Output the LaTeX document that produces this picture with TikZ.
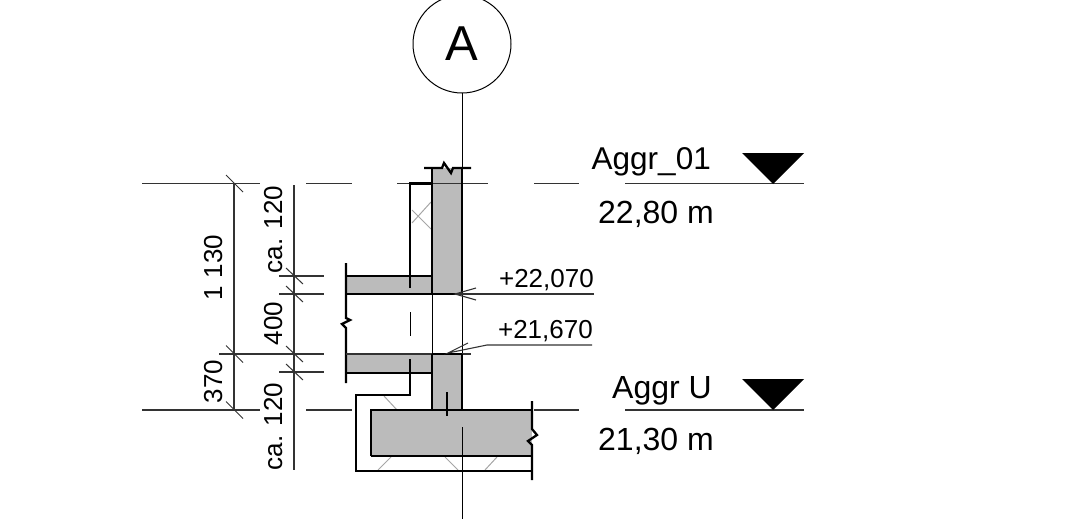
\documentclass[tikz,border=0pt]{standalone}
\usepackage{fontspec}
\setmainfont{Liberation Sans}
\definecolor{concrete}{HTML}{BBBBBB}
\definecolor{thinline}{HTML}{333333}
\tikzset{heavy/.style={black, line width=2.3pt}}
\tikzset{thin line/.style={thinline, line width=1.1pt}}
\tikzset{hatch/.style={black!35, line width=1pt}}
\tikzset{dimtick/.style={thinline, line width=1pt}}
\tikzset{lvltext/.style={inner sep=0pt, font=\fontsize{32}{32}\selectfont}}
\tikzset{dimtext/.style={inner sep=0pt, font=\fontsize{26}{26}\selectfont}}
\begin{document}
\begin{tikzpicture}[x=1pt, y=-1pt]

    \useasboundingbox (0,0) rectangle (1080,519);
    \clip (0,0) rectangle (1080,519);

    % concrete
    \fill[concrete] (432,168) rectangle (462,294);
    \fill[concrete] (346,276) rectangle (432,294);
    \fill[concrete] (346,354) rectangle (432,373);
    \fill[concrete] (432,354) rectangle (462,410);
    \fill[concrete] (371,410) rectangle (532,456);

    % levels
    \foreach \lvl in {183.5,410} {
      \draw[thin line] (142,\lvl) -- (260,\lvl);
      \draw[thin line] (306,\lvl) -- (352,\lvl);
      \draw[thin line] (534,\lvl) -- (579,\lvl);
      \draw[thin line] (625,\lvl) -- (804,\lvl);
    }
    \draw[thin line] (397,183.5) -- (488,183.5);

    % grid axis
    \node[draw, circle, line width=1pt, minimum size=98pt, inner sep=0pt, font=\fontsize{49}{49}\selectfont] (axisA) at (462,44) {A};
    \coordinate (axisB) at (462,410);
    \coordinate (axisC) at (462,427);
    \coordinate (axisD) at (462,519);
    \draw[black, line width=1pt] (axisA.south) -- (axisB);
    \draw[black, line width=1pt] (axisC) -- (axisD);

    % insulation hatch
    \draw[hatch] (412,223) -- (431,202);
    \draw[hatch] (412,210) -- (431,229);
    \draw[hatch] (384,396) -- (397,410);
    \draw[hatch] (391,457) -- (378,470);
    \draw[hatch] (445,457) -- (458,470);
    \draw[hatch] (497,457) -- (485,470);

    % outlines
    \draw[heavy] (424,168) -- (442,168) -- (444,163) -- (451,173) -- (453,168) -- (471,168);
    \draw[heavy] (432,168) -- (432,294);
    \draw[heavy] (462,168) -- (462,294);
    \draw[heavy] (410,288) -- (410,183.5) -- (432,183.5);
    \draw[heavy] (346,276) -- (432,276);
    \draw[heavy] (346,294) -- (462,294);
    \draw[heavy] (346,263) -- (346,318) -- (350,320) -- (342,324) -- (346,328) -- (346,383);
    \draw[black, line width=1pt] (432,294) -- (432,354);
    \draw[black, line width=1pt] (462,294) -- (462,354);
    \draw[black, line width=1pt] (410,312) -- (410,336);
    \draw[thin line] (346,354) -- (471,354);
    \draw[heavy] (432,354) -- (462,354);
    \draw[heavy] (346,373) -- (432,373);
    \draw[heavy] (432,354) -- (432,410);
    \draw[heavy] (462,354) -- (462,410);
    \draw[heavy] (410,359) -- (410,395) -- (356,395) -- (356,471) -- (532,471);
    \draw[heavy] (447,392) -- (447,416);
    \draw[heavy] (371,456) -- (371,410) -- (532,410);
    \draw[heavy] (371,456) -- (532,456);
    \draw[heavy] (532,401) -- (532,429) -- (537,435) -- (528,441) -- (532,445) -- (532,480);

    % dimensions
    \draw[thin line] (234,183.5) -- (234,410);
    \draw[thin line] (294,185) -- (294,470);
    \draw[thin line] (219,354) -- (324,354);
    \foreach \lvl in {276,294,372} {
      \draw[thin line] (279,\lvl) -- (324,\lvl);
    }
    \foreach \lvl in {183.5,354,410} {
      \draw[dimtick] (226,\lvl-8.5) -- (243,\lvl+8.5);
    }
    \foreach \lvl in {276,294,354,372} {
      \draw[dimtick] (286,\lvl-8) -- (303,\lvl+8);
    }
    \node[dimtext, rotate=90, anchor=base] (dimtotal) at (222,267.5) {1 130};
    \node[dimtext, rotate=90, anchor=base] (dimlow) at (222,381.5) {370};
    \node[dimtext, rotate=90, anchor=base] (dimtop) at (282,229.5) {ca. 120};
    \node[dimtext, rotate=90, anchor=base] (dimgap) at (282,323.5) {400};
    \node[dimtext, rotate=90, anchor=base] (dimbot) at (282,426.5) {ca. 120};

    % spot heights
    \node[dimtext, anchor=base east] (spotA) at (594,287) {+22,070};
    \node[dimtext, anchor=base east] (spotB) at (593,338) {+21,670};
    \coordinate (tipA) at (455,294);
    \coordinate (tipB) at (448,353);
    \coordinate (endA) at (594,294);
    \coordinate (endB) at (592,345);
    \coordinate (kneeB) at (487,345);
    \draw[thin line] (endA) -- (tipA);
    \draw[thin line] (476,288) -- (tipA) -- (476,300);
    \draw[thin line] (endB) -- (kneeB) -- (tipB) -- (468,343);

    % level marks
    \fill[black] (742,153) -- (804,153) -- (773,184) -- cycle;
    \fill[black] (742,379) -- (804,379) -- (773,410) -- cycle;
    \node[lvltext, anchor=base east, font=\fontsize{31.5}{32}\selectfont] (lvlA) at (711,169) {Aggr\_01};
    \node[lvltext, anchor=base east] (lvlAval) at (714,223) {22,80 m};
    \node[lvltext, anchor=base east] (lvlU) at (712,398) {Aggr U};
    \node[lvltext, anchor=base east] (lvlUval) at (714,450) {21,30 m};

  \end{tikzpicture}
\end{document}
